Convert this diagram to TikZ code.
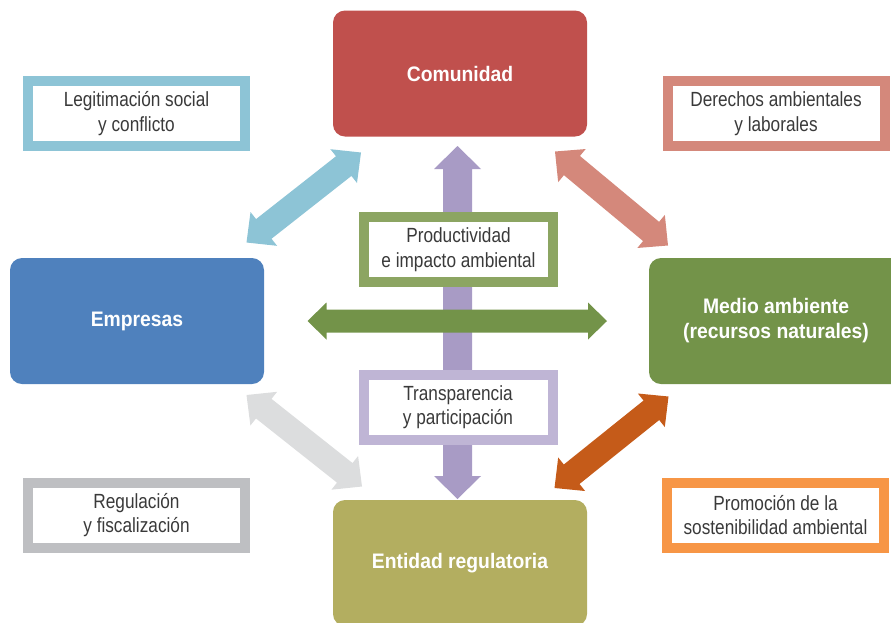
\documentclass[tikz,border=0pt]{standalone}
\usepackage{fontspec}
\usetikzlibrary{calc}
\setmainfont[FakeStretch=0.84]{Liberation Sans}
\newfontfamily\boxfont[FakeStretch=0.92]{Liberation Sans}

\definecolor{comred}{HTML}{C0504D}
\definecolor{empblue}{HTML}{4F81BD}
\definecolor{medgreen}{HTML}{739349}
\definecolor{entolive}{HTML}{B3AE60}
\definecolor{aqua}{HTML}{8DC4D6}
\definecolor{salmon}{HTML}{D4887B}
\definecolor{greyline}{HTML}{BEBFC2}
\definecolor{greyarrow}{HTML}{DCDDDE}
\definecolor{orangeline}{HTML}{F79646}
\definecolor{orangearrow}{HTML}{C55B19}
\definecolor{greenline}{HTML}{8CA562}
\definecolor{lavline}{HTML}{BFB5D5}
\definecolor{lavarrow}{HTML}{A89BC5}
\definecolor{labeltext}{HTML}{3A3A3A}

% double-headed block arrow: colour, start, end, half shaft, half head, head length
\newcommand\fatarrow[6]{%
  \coordinate (fa1) at ($(#2)!#6!(#3)$);
  \coordinate (fa2) at ($(#3)!#6!(#2)$);
  \fill[#1] (#2) -- ($(fa1)!#5!90:(#3)$) -- ($(fa1)!#4!90:(#3)$)
    -- ($(fa2)!#4!-90:(#2)$) -- ($(fa2)!#5!-90:(#2)$) -- (#3)
    -- ($(fa2)!#5!90:(#2)$) -- ($(fa2)!#4!90:(#2)$)
    -- ($(fa1)!#4!-90:(#3)$) -- ($(fa1)!#5!-90:(#3)$) -- cycle;
}

\tikzset{
  actor/.style={rounded corners=12pt, minimum width=254pt, minimum height=126pt,
    inner sep=0pt, text=white, align=center,
    font=\boxfont\bfseries\fontsize{21}{25}\selectfont},
  tag/.style={draw=#1, line width=10pt, fill=white, inner sep=0pt, align=center,
    minimum width=217pt, minimum height=65pt, text=labeltext,
    font=\fontsize{20.5}{24.5}\selectfont},
  midtag/.style={tag=#1, minimum width=189pt},
}

\begin{document}
\begin{tikzpicture}[x=1pt,y=-1pt]
\useasboundingbox (0,0) rectangle (891,622);
\clip (0,0) rectangle (891,622);

% the four actors
\node[actor, fill=comred]    (com) at (460,73.5) {Comunidad};
\node[actor, fill=empblue]   (emp) at (137,321)  {Empresas};
\node[actor, fill=medgreen]  (med) at (776,321)  {Medio ambiente\\(recursos naturales)};
\node[actor, fill=entolive]  (ent) at (460,563)  {Entidad regulatoria};

% arrow end points
\coordinate (blueA) at (246.5,242.5);
\coordinate (blueB) at (361,152.5);
\coordinate (salA)  at (555,151.5);
\coordinate (salB)  at (668,245.5);
\coordinate (greyA) at (246.5,395);
\coordinate (greyB) at (362,486.5);
\coordinate (orA)   at (554.5,488);
\coordinate (orB)   at (668.5,396.5);
\coordinate (vtop)  at (457.5,146);
\coordinate (vbot)  at (457.5,499);
\coordinate (hleft) at (307.5,321);
\coordinate (hright) at (607,321);

% diagonal links
\fatarrow{aqua}{blueA}{blueB}{12.5pt}{21.5pt}{22pt}
\fatarrow{salmon}{salA}{salB}{12.5pt}{21.5pt}{22pt}
\fatarrow{greyarrow}{greyA}{greyB}{12.5pt}{21.5pt}{22pt}
\fatarrow{orangearrow}{orA}{orB}{12.5pt}{21.5pt}{22pt}

% central cross
\fatarrow{lavarrow}{vtop}{vbot}{14.5pt}{23.5pt}{23pt}
\fatarrow{medgreen}{hleft}{hright}{11.5pt}{18.5pt}{19pt}

% relation labels
\node[tag=aqua]        (legit) at (136.5,113.5) {Legitimación social\\y conflicto};
\node[tag=salmon]      (der)   at (776,113.5)   {Derechos ambientales\\y laborales};
\node[tag=greyline]    (reg)   at (136.5,515)   {Regulación\\y fiscalización};
\node[tag=orangeline]  (prom)  at (775.5,515)   {Promoción de la\\sostenibilidad ambiental};
\node[midtag=greenline] (prod) at (458.5,249.5) {Productividad\\e impacto ambiental};
\node[midtag=lavline]  (trans) at (458,407)     {Transparencia\\y participación};
\end{tikzpicture}
\end{document}
